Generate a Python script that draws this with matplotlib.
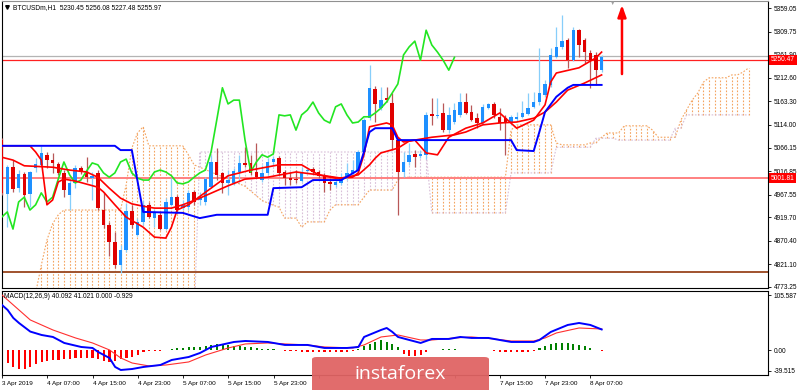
import matplotlib
matplotlib.use("Agg")
import matplotlib.pyplot as plt
from matplotlib.patches import FancyBboxPatch

W, H = 800, 390
FONT = "Liberation Sans"

# hourly bars, bar 0 = 4 Apr 00:00
bars = list(range(-1, 106))
opens = [5082,
         4969, 5025, 4981, 5011, 4969, 5023, 5030, 5051, 5040, 5032,
         5013, 4967, 4992, 5023, 5015, 5002, 5013, 4935, 4903, 4868,
         4820, 4851, 4933, 4883, 4910, 4946, 4918, 4924, 4895, 4946,
         4962, 4939, 4941, 4973, 4956, 4952, 4983, 5036, 5013, 4992,
         4992, 5015, 5034, 5034, 5015, 4998, 5013, 5036, 5044, 5015,
         5002, 5000, 4996, 5017, 5021, 5015, 5007, 4994, 4988, 4992,
         5002, 5013, 5017, 5057, 5128, 5189, 5149, 5170, 5160, 5082,
         5015, 5036, 5053, 5049, 5051, 5137, 5133, 5139, 5103, 5120,
         5135, 5162, 5141, 5128, 5118, 5149, 5158, 5131, 5128, 5118,
         5126, 5131, 5137, 5152, 5162, 5177, 5198, 5257, 5278, 5292,
         5250, 5313, 5292, 5265, 5261, 5229]
highs = [5086,
         5030, 5040, 5019, 5015, 5017, 5044, 5070, 5057, 5055, 5036,
         5019, 5002, 5030, 5028, 5047, 5015, 5019, 4973, 4910, 4889,
         4862, 4950, 4946, 4918, 4956, 4952, 4937, 4931, 4960, 5002,
         4967, 4956, 4977, 4977, 4973, 5004, 5051, 5065, 5015, 5019,
         5023, 5051, 5068, 5051, 5076, 5030, 5044, 5049, 5049, 5019,
         5015, 5019, 5025, 5023, 5025, 5019, 5013, 5002, 4998, 5013,
         5034, 5040, 5061, 5128, 5240, 5196, 5194, 5194, 5181, 5088,
         5057, 5076, 5061, 5061, 5141, 5170, 5170, 5160, 5152, 5160,
         5181, 5181, 5156, 5139, 5158, 5160, 5162, 5149, 5135, 5135,
         5141, 5164, 5181, 5183, 5276, 5208, 5276, 5320, 5345, 5297,
         5320, 5316, 5297, 5271, 5267, 5261]
lows = [4967,
        4899, 4973, 4973, 4941, 4941, 5015, 5028, 5023, 5013, 5009,
        4962, 4935, 4981, 5011, 4994, 4956, 4935, 4897, 4838, 4813,
        4803, 4847, 4897, 4880, 4903, 4918, 4899, 4893, 4893, 4943,
        4929, 4935, 4935, 4946, 4946, 4946, 4981, 4998, 4971, 4967,
        4988, 4994, 5025, 5009, 5002, 4994, 5009, 5030, 5009, 4988,
        4988, 4992, 4994, 5013, 5011, 5002, 4973, 4977, 4983, 4988,
        4998, 5009, 5015, 5051, 5124, 5120, 5145, 5162, 5061, 4925,
        5004, 5030, 5025, 5044, 5042, 5114, 5128, 5099, 5097, 5116,
        5131, 5137, 5122, 5107, 5116, 5147, 5128, 5103, 5051, 5114,
        5122, 5128, 5135, 5149, 5156, 5173, 5194, 5255, 5274, 5234,
        5248, 5257, 5244, 5192, 5198, 5225]
closes = [4971,
          5025, 4979, 5011, 4967, 5015, 5032, 5055, 5040, 5034, 5013,
          4977, 4992, 5023, 5017, 5004, 5007, 4939, 4903, 4868, 4820,
          4851, 4933, 4903, 4910, 4946, 4920, 4931, 4895, 4952, 4962,
          4935, 4946, 4971, 4952, 4962, 5000, 5036, 5009, 4992, 4998,
          5017, 5034, 5030, 5013, 5004, 5013, 5036, 5042, 5013, 5002,
          4998, 4998, 5015, 5019, 5015, 5007, 4992, 4990, 4994, 5004,
          5013, 5019, 5057, 5124, 5192, 5158, 5166, 5166, 5082, 5015,
          5036, 5051, 5046, 5053, 5135, 5133, 5135, 5103, 5135, 5145,
          5162, 5139, 5124, 5118, 5152, 5158, 5135, 5118, 5120, 5131,
          5131, 5139, 5149, 5162, 5181, 5200, 5261, 5278, 5290, 5250,
          5313, 5282, 5267, 5250, 5229, 5256]

# ichimoku cloud, shifted 26 bars ahead (bars -1..131)
cloud_bars = list(range(-1, 132))
senkou_a = [4740, 4740, 4740, 4740, 4740, 4740, 4760, 4819, 4872, 4906,
            4925, 4935, 4935, 4935, 4935, 4935, 4935, 4935, 4935, 4935,
            4935, 4935, 4988, 5065, 5097, 5110, 5070, 5070, 5070, 5070,
            5070, 5070, 5070, 5051, 5030, 5025, 5020, 5015, 5010, 5005,
            5000, 4995, 4990, 4985, 4975, 4965, 4955, 4950, 4945, 4941,
            4918, 4918, 4918, 4899, 4910, 4910, 4910, 4910, 4935, 4946,
            4946, 4946, 4946, 4946, 4962, 4977, 4977, 4977, 4977, 4977,
            4998, 5004, 5004, 5004, 5004, 5004, 5004, 5004, 5004, 5004,
            5004, 5004, 5004, 5004, 5004, 5004, 5004, 5004, 5004, 5004,
            5103, 5114, 5114, 5114, 5114, 5114, 5114, 5114, 5076, 5072,
            5072, 5072, 5072, 5072, 5076, 5076, 5088, 5097, 5097, 5097,
            5112, 5112, 5112, 5112, 5112, 5103, 5088, 5088, 5088, 5088,
            5124, 5145, 5166, 5181, 5204, 5213, 5213, 5213, 5213, 5219,
            5219, 5225, 5234]
senkou_b = [4700, 4700, 4700, 4700, 4700, 4700, 4700, 4700, 4700, 4700,
            4700, 4700, 4700, 4700, 4700, 4700, 4700, 4700, 4700, 4700,
            4700, 4700, 4700, 4700, 4700, 4700, 4700, 4700, 4700, 4700,
            4700, 4700, 4700, 4700, 4700, 5057, 5057, 5057, 5057, 5057,
            5057, 5057, 5057, 5057, 5057, 5057, 5057, 5057, 5057, 5057,
            5057, 5057, 5057, 5057, 5057, 5057, 5057, 5057, 5057, 5057,
            5057, 5057, 5057, 5057, 5057, 5057, 5057, 5057, 5057, 5057,
            5057, 5057, 5057, 5057, 5057, 5057, 4929, 4929, 4929, 4929,
            4929, 4929, 4929, 4929, 4929, 4929, 4929, 4929, 4929, 4929,
            5013, 5013, 5013, 5013, 5013, 5013, 5013, 5013, 5067, 5067,
            5067, 5067, 5067, 5067, 5067, 5086, 5086, 5086, 5086, 5082,
            5082, 5082, 5082, 5082, 5082, 5082, 5082, 5082, 5082, 5107,
            5107, 5135, 5135, 5135, 5135, 5135, 5135, 5135, 5135, 5135,
            5135, 5135, 5135]

kijun_bars = [-1, 19, 20, 22, 24, 31, 34, 37, 46, 47, 52, 54, 59, 62, 63, 64,
              65, 68, 69, 89, 90, 93, 94, 95, 97, 99, 100, 105]
kijun_vals = [5070, 5070, 5061, 5061, 4931, 4929, 4918, 4925, 4925, 4981, 4983,
              4998, 4998, 5019, 5057, 5099, 5107, 5107, 5082, 5082, 5061, 5059,
              5099, 5141, 5173, 5192, 5198, 5198]

tenkan_bars = [-1, 4, 5, 6, 7, 8, 9, 10, 12, 16, 17, 19, 21, 24, 26, 28, 29, 30,
               32, 36, 39, 43, 48, 52, 55, 58, 61, 62, 63, 64, 67, 68, 69, 70,
               72, 74, 76, 78, 81, 84, 87, 90, 93, 95, 96, 97, 101, 104, 105]
tenkan_vals = [5070, 5070, 5057, 5040, 4946, 4956, 4994, 5000, 4996, 4983, 4973,
               4946, 4920, 4899, 4878, 4876, 4899, 4935, 4946, 4981, 5007, 5019,
               5030, 5030, 5009, 5002, 5004, 5013, 5051, 5110, 5118, 5114, 5088,
               5078, 5082, 5055, 5051, 5088, 5107, 5118, 5139, 5107, 5124, 5156,
               5204, 5223, 5234, 5255, 5267]

ma_bars = [-1, 1, 3, 8, 11, 14, 16, 18, 20, 22, 24, 26, 29, 31, 34, 39, 42, 46,
           51, 55, 59, 62, 64, 65, 66, 69, 71, 75, 79, 81, 84, 87, 90, 93, 95,
           97, 99, 102, 105]
ma_vals = [5046, 5040, 5028, 5025, 5019, 5015, 5004, 4981, 4960, 4948, 4943,
           4939, 4939, 4946, 4960, 4986, 5000, 5004, 5015, 5009, 5002, 5009,
           5030, 5044, 5055, 5065, 5080, 5088, 5093, 5099, 5114, 5118, 5120,
           5128, 5141, 5162, 5187, 5202, 5219]

price_ticks = [5359.05, 5309.75, 5261.90, 5212.60, 5163.30, 5114.00, 5066.15,
               5016.85, 4967.55, 4919.70, 4870.40, 4821.10, 4773.25]
bid_price = 5250.47
ask_price = 5258.5
level_price = 5001.81
floor_price = 4805.0
arrow_bar, arrow_from, arrow_to = 108.6, 5215, 5372

# MACD(12,26,9)
macd_bars = [-1, 0, 1, 2, 4, 6, 8, 9, 10, 13, 15, 16, 18, 19, 20, 22, 24, 27, 29,
             32, 34, 36, 40, 42, 46, 49, 53, 56, 60, 62, 63, 66, 67, 68, 69, 71,
             73, 75, 78, 80, 82, 85, 87, 89, 93, 94, 96, 99, 101, 103, 105]
macd_vals = [87.0, 77.4, 62.1, 52.5, 36.0, 29.5, 25.7, 20.0, 14.2, 6.5, 4.6, -3.1,
             -14.6, -31.8, -37.6, -35.7, -31.8, -28.0, -18.4, -12.7, -5.0, 6.5,
             16.1, 18.0, 16.1, 10.4, 10.4, 4.6, 4.6, 6.5, 25.7, 39.1, 42.9, 35.3,
             25.7, 19.9, 14.2, 21.9, 21.9, 25.7, 23.8, 23.8, 19.9, 16.1, 16.1,
             19.9, 35.3, 48.7, 52.5, 48.7, 40.1]
signal_bars = [-1, 1, 4, 8, 12, 15, 18, 20, 22, 25, 28, 32, 35, 39, 42, 46, 49,
               53, 56, 61, 63, 66, 69, 73, 75, 79, 82, 86, 89, 93, 95, 97, 101,
               105]
signal_vals = [106.2, 87.0, 58.3, 39.1, 23.8, 14.2, 0.8, -14.6, -24.2, -29.9,
               -28.0, -22.2, -8.8, 4.6, 12.3, 14.2, 12.3, 10.4, 6.5, 4.6, 10.4,
               25.7, 29.5, 19.9, 19.9, 23.8, 25.7, 21.9, 18.0, 18.0, 23.8, 33.4,
               42.9, 41.0]
hist_vals = [-19,
             -25, -31, -35, -35, -31, -27, -23, -21, -19, -19,
             -17, -17, -15, -15, -15, -15, -17, -21, -23, -21,
             -17, -15, -12, -8, -4, -2, -1, -0.6, 1, 3,
             4, 5, 6, 6, 6, 8, 10, 12, 12, 10,
             8, 8, 7, 6, 4, 3, 2, 2, 1, -1,
             -2, -2, -3, -4, -4, -4, -4, -4, -4, -4,
             -3, -2, 3, 8, 13, 17, 19, 17, 12, 6,
             -6, -10, -10, -8, -4, 1, 1.5, 2, 2, 2,
             1.5, 1, 1, 1, 0.5, 0.5, -1, -3, -4, -4,
             -4, -4, -3, -1, 4, 8, 13, 15, 15, 15,
             13, 11, 8, 4, 1, -0.9]
macd_ticks = [105.587, 0.0, -39.515]
macd_labels = ["105.587", "0.00", "-39.515"]

# labels under the watermark are left blank, as in the screenshot
time_bars = [-1, 7, 15, 23, 31, 39, 47, 55, 63, 71, 79, 87, 95, 103]
time_labels = ["3 Apr 2019", "4 Apr 07:00", "4 Apr 15:00", "4 Apr 23:00",
               "5 Apr 07:00", "5 Apr 15:00", "5 Apr 23:00", "", "", "", "",
               "7 Apr 15:00", "7 Apr 23:00", "8 Apr 07:00"]

plt.rcParams["font.family"] = [FONT, "DejaVu Sans"]
fig = plt.figure(figsize=(W / 100, H / 100), dpi=100)
ax = fig.add_axes([2 / W, 1 - 288 / H, 766 / W, 287 / H])
mx = fig.add_axes([2 / W, 1 - 375 / H, 766 / W, 84 / H])
xlim = (-0.94, 134.4)

# cloud hatching
dot = (0, (1.5, 1.5))
for b, a, s in zip(cloud_bars, senkou_a, senkou_b):
    c = "#f4a460" if a >= s else "#d8bfd8"
    ax.vlines(b, min(a, s), max(a, s), colors=c, linestyles=dot, lw=0.8, zorder=1)
ax.plot(cloud_bars, senkou_a, color="#f4a460", ls=dot, lw=0.8, zorder=1)
ax.plot(cloud_bars, senkou_b, color="#d8bfd8", ls=dot, lw=0.8, zorder=1)

# horizontal levels
ax.axhline(ask_price, color="#b4b4b4", lw=0.9, zorder=2)
ax.axhline(bid_price, color="#ff2020", lw=0.9, zorder=2)
ax.axhline(level_price, color="#ff8080", lw=1.4, zorder=2)
ax.axhline(floor_price, color="#a0522d", lw=1.4, zorder=2)

# candles
for b, o, hi, lo, c in zip(bars, opens, highs, lows, closes):
    up = c >= o
    ax.vlines(b, lo, hi, colors="#87cefa" if up else "#b85858", lw=0.9, zorder=3)
    ax.bar(b, max(abs(c - o), 1.5), bottom=min(o, c), width=0.62,
           color="#1e90ff" if up else "#e00000", lw=0, zorder=4)

# indicator lines
ax.plot(bars[:-26], closes[26:], color="#22e622", lw=1.2, zorder=5)
ax.plot(ma_bars, ma_vals, color="#ff0000", lw=1.2, zorder=5)
ax.plot(tenkan_bars, tenkan_vals, color="#ff0000", lw=1.2, zorder=5)
ax.plot(kijun_bars, kijun_vals, color="#0000ff", lw=1.4, zorder=5)

ax.annotate("", xy=(arrow_bar, arrow_to), xytext=(arrow_bar, arrow_from),
            arrowprops=dict(arrowstyle="-|>,head_width=0.25,head_length=0.7",
                            color="#ff0000", lw=1.8), zorder=6)

ax.set_xlim(*xlim)
ax.set_ylim(4771.1, 5374.4)
ax.yaxis.tick_right()
ax.set_yticks(price_ticks)
ax.set_yticklabels([f"{v:.2f}" for v in price_ticks])
ax.set_xticks([])
ax.tick_params(axis="y", length=2.5, width=0.6, pad=1.5, labelsize=4.7)

for val in (bid_price, level_price):
    ax.annotate(f"{val:.2f}", xy=(1.0, val), xycoords=("axes fraction", "data"),
                xytext=(2.2, 0), textcoords="offset points", va="center",
                ha="left", fontsize=4.8, color="white", zorder=10,
                bbox=dict(boxstyle="square,pad=0.25", fc="#ff0000", ec="none"),
                annotation_clip=False)

ax.text(0.015, 0.978, "BTCUSDm,H1  5230.45 5256.08 5227.48 5255.97",
        transform=ax.transAxes, fontsize=4.8, va="center", ha="left")
ax.plot([0.006], [0.978], marker="v", ms=2.6, color="black",
        transform=ax.transAxes, clip_on=False)
fig.text(613 / W, 1 - 3 / H, "\u25bc", fontsize=4, color="#a0a0a0",
         ha="center", va="center")

# MACD panel
hist_col = ["#008000" if v >= 0 else "#ff0000" for v in hist_vals]
mx.bar(bars, hist_vals, width=0.38, color=hist_col, lw=0, zorder=2)
mx.plot(signal_bars, signal_vals, color="#ff3030", lw=0.8, zorder=3)
mx.plot(macd_bars, macd_vals, color="#0000ff", lw=1.4, zorder=4)
mx.set_xlim(*xlim)
mx.set_ylim(-47.2, 113.8)
mx.yaxis.tick_right()
mx.set_yticks(macd_ticks)
mx.set_yticklabels(macd_labels)
mx.tick_params(axis="y", length=2.5, width=0.6, pad=1.5, labelsize=4.7)
mx.set_xticks(time_bars)
mx.set_xticklabels(time_labels, ha="left")
mx.tick_params(axis="x", length=2.5, width=0.6, pad=1.5, labelsize=4.6)
mx.text(0.003, 0.93, "MACD(12,26,9) 40.092 41.021 0.000 -0.929",
        transform=mx.transAxes, fontsize=4.8, va="center", ha="left")

for a in (ax, mx):
    for s in a.spines.values():
        s.set_linewidth(0.8)
ax.spines["top"].set_color("#909090")

# watermark
fig.patches.append(FancyBboxPatch((312 / W, -0.02), 177 / W, 33 / H + 0.02,
                                  boxstyle="round,pad=0,rounding_size=0.006",
                                  transform=fig.transFigure, fc="#e06464",
                                  ec="none", alpha=0.95, zorder=20))
fig.text(400 / W, 1 - 374 / H, "instaforex", fontsize=14, color="white",
         ha="center", va="center", family="Open Sans", zorder=21)

fig.savefig("out.png", dpi=100)
